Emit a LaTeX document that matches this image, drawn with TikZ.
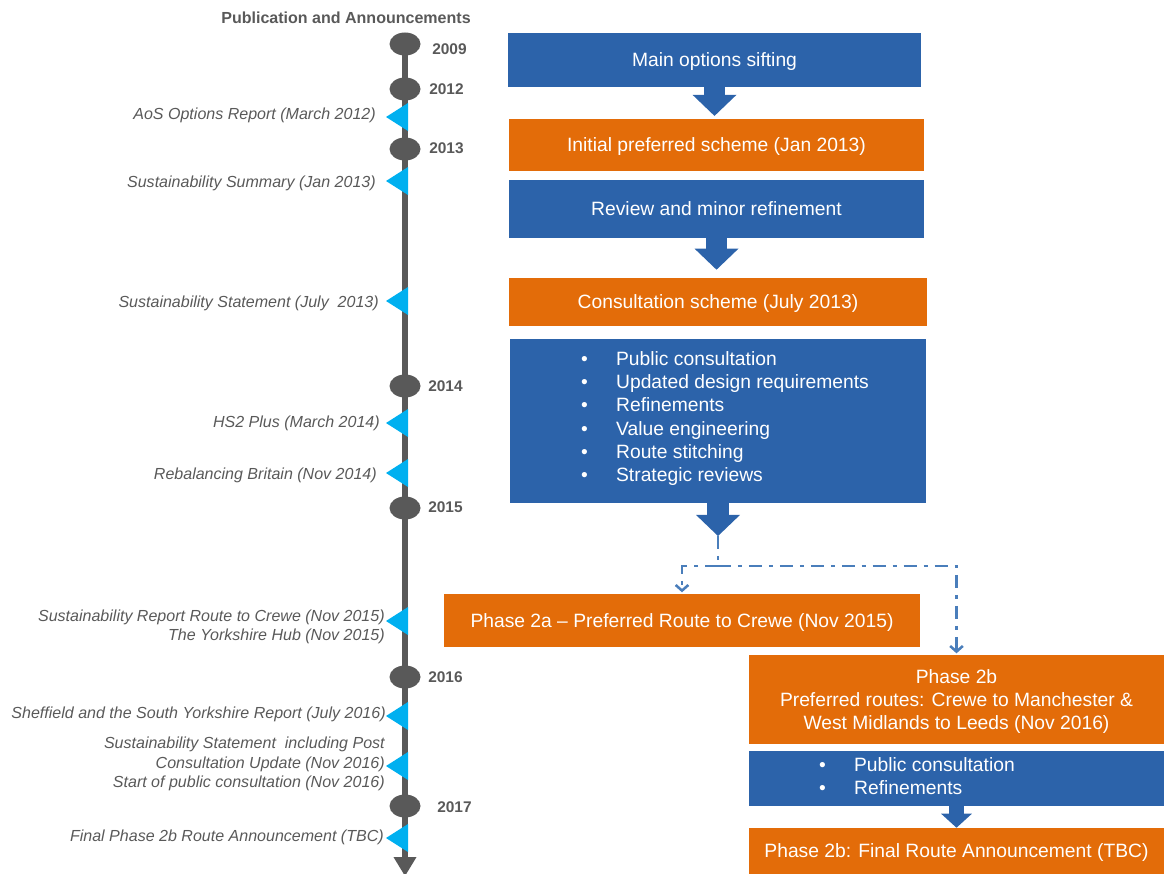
\documentclass[tikz,border=0pt]{standalone}
\usepackage{fontspec}
\setmainfont{Liberation Sans}
\usetikzlibrary{arrows.meta,shapes.geometric,calc}

\definecolor{boxblue}{RGB}{44,99,170}
\definecolor{boxorange}{RGB}{227,108,9}
\definecolor{flagcyan}{RGB}{0,176,240}
\definecolor{linegray}{RGB}{89,89,89}
\definecolor{dashblue}{RGB}{74,126,187}

\newcommand{\pxu}{0.025cm}
\newcommand{\bitem}[1]{\makebox[25pt][l]{\textbullet}#1}

\tikzset{
    boxsize/.style 2 args={minimum width=#1*\pxu, minimum height=#2*\pxu},
    box/.style={rectangle, inner sep=0pt, text=white, align=center, text depth=0pt,
        font=\fontsize{13.7}{16.5}\selectfont},
    bluebox/.style={box, fill=boxblue},
    orangebox/.style={box, fill=boxorange},
    listtext/.style={inner sep=0pt, text=white, align=left,
        font=\fontsize{13.7}{16.6}\selectfont},
    fatarrow/.style={draw=boxblue, line width=15.6pt,
        -{Triangle[length=15pt,width=31.3pt,line width=0pt]}},
    smallarrow/.style={draw=boxblue, line width=10.7pt,
        -{Triangle[length=10pt,width=22pt,line width=0pt]}},
    ddline/.style={draw=dashblue, line width=1.8pt,
        dash pattern=on 9.2pt off 5pt on 2.8pt off 5pt},
    ddtip/.style={-{Straight Barb[length=4pt,width=9pt]}},
    tline/.style={draw=linegray, line width=3.6pt,
        -{Triangle[length=13.5pt,width=16.4pt,line width=0pt]}},
    yeardot/.style={ellipse, fill=linegray, inner sep=0pt,
        minimum width=31*\pxu, minimum height=23*\pxu},
    yearlbl/.style={anchor=west, inner sep=0pt, text=linegray,
        font=\fontsize{11}{13}\selectfont\bfseries},
    evlbl/.style={anchor=east, inner sep=0pt, text=linegray, align=right,
        font=\fontsize{11.4}{13.7}\selectfont\itshape},
    titlelbl/.style={inner sep=0pt, text=linegray,
        font=\fontsize{11.4}{13.7}\selectfont\bfseries}
}

\begin{document}
\begin{tikzpicture}[x=0.025cm, y=-0.025cm]
    \useasboundingbox (0,0) rectangle (1164,874);

    \node[titlelbl] (title) at (346,18) {Publication and Announcements};

    \coordinate (tltop) at (405,44);
    \coordinate (tlend) at (405,876);
    \draw[tline] (tltop) -- (tlend);

    \foreach \yr/\yy/\lx/\ly in {2009/44/432/49, 2012/89/429/89, 2013/149/429/148,
        2014/386/428/386, 2015/508/428/507, 2016/677/428/677, 2017/806/437/807} {
        \node[yeardot] (y\yr) at (405,\yy) {};
        \node[yearlbl] (l\yr) at (\lx,\ly) {\yr};
    }

    \foreach \fy in {117,181,301,423,473,621,716,766,838}
        \fill[flagcyan] (408,\fy-14) -- (386,\fy) -- (408,\fy+14) -- cycle;

    \node[evlbl] (ev1) at (376,115) {AoS Options Report (March 2012)};
    \node[evlbl] (ev2) at (376,183) {Sustainability Summary (Jan 2013)};
    \node[evlbl] (ev3) at (379,303) {Sustainability Statement (July~ 2013)};
    \node[evlbl] (ev4) at (380,423) {HS2 Plus (March 2014)};
    \node[evlbl] (ev5) at (377,475) {Rebalancing Britain (Nov 2014)};
    \node[evlbl] (ev6) at (385,627) {Sustainability Report Route to Crewe (Nov 2015)\\The Yorkshire Hub (Nov 2015)};
    \node[evlbl] (ev7) at (386,714) {Sheffield and the South Yorkshire Report (July 2016)};
    \node[evlbl] (ev8) at (385,764) {Sustainability Statement~ including Post\\Consultation Update (Nov 2016)\\Start of public consultation (Nov 2016)};
    \node[evlbl] (ev9) at (384,837) {Final Phase 2b Route Announcement (TBC)};

    \node[bluebox, boxsize={413}{54}] (sift) at (714.5,60) {Main options sifting};
    \node[orangebox, boxsize={415}{52}, text depth=-3pt] (init) at (716.5,145) {Initial preferred scheme (Jan 2013)};
    \node[bluebox, boxsize={415}{58}] (review) at (716.5,209) {Review and minor refinement};
    \node[orangebox, boxsize={418}{48}] (consult) at (718,302) {Consultation scheme (July 2013)};
    \node[bluebox, boxsize={416}{164}] (work) at (718,421) {};
    \node[listtext, anchor=west] (worklist) at ($(work.west)+(71,-2.5)$) {\bitem{Public consultation}\\
        \bitem{Updated design requirements}\\\bitem{Refinements}\\\bitem{Value engineering}\\
        \bitem{Route stitching}\\\bitem{Strategic reviews}};
    \node[orangebox, boxsize={476}{53}, text depth=-1.5pt] (p2a) at (682,620.5) {Phase 2a – Preferred Route to Crewe (Nov 2015)};
    \node[orangebox, boxsize={415}{89}, text depth=-2.5pt] (p2b) at (956.5,699.5) {Phase 2b\\Preferred routes: Crewe to Manchester \&\\West Midlands to Leeds (Nov 2016)};
    \node[bluebox, boxsize={415}{55}] (p2bwork) at (956.5,778.5) {};
    \node[listtext, anchor=west] (p2blist) at ($(p2bwork.west)+(70,-2.5)$) {\bitem{Public consultation}\\\bitem{Refinements}};
    \node[orangebox, boxsize={415}{46}, text depth=-6.5pt] (final) at (956.5,851) {Phase 2b: Final Route Announcement (TBC)};

    \draw[fatarrow, shorten >=2pt] (sift.south) -- (sift.south |- init.north);
    \draw[fatarrow, shorten >=5.7pt] (review.south) -- (review.south |- consult.north);
    \coordinate (fork) at (718,536);
    \coordinate (split) at (718,566);
    \draw[fatarrow] (work.south) -- (fork);
    \draw[ddline] (fork) -- (split);
    \draw[ddline, ddtip, shorten >=1pt] (split) -| (p2a.north);
    \draw[ddline, ddtip, shorten >=1pt] (split) -| (p2b.north);
    \draw[smallarrow] (p2bwork.south) -- (final.north);
\end{tikzpicture}
\end{document}
